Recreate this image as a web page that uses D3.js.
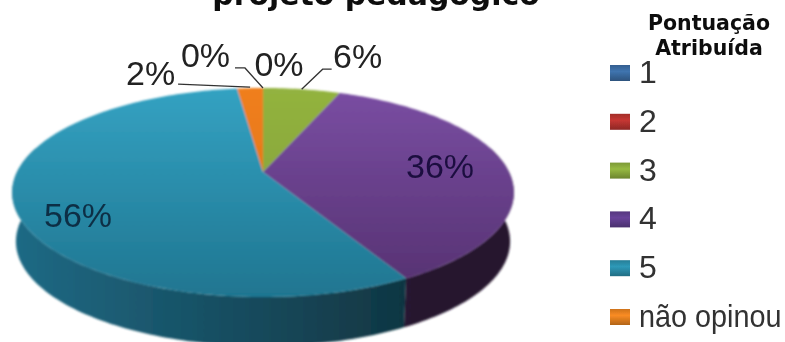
<!DOCTYPE html>
<html><head><meta charset="utf-8">
<script src="https://cdn.jsdelivr.net/npm/d3@7"></script>
<style>html,body{margin:0;padding:0;background:#fff}svg{display:block}</style>
</head><body><svg id="c" width="785" height="342"></svg>
<script>
const categories = ["1","2","3","4","5","não opinou"];
const values = [0,0,6,36,56,2];
const labels = ["0%","0%","6%","36%","56%","2%"];
const titleText = "projeto pedagógico";
const legendTitle = ["Pontuação","Atribuída"];
const topColors = [["#4f81bd","#3a6291"],["#c0504d","#8f3b39"],["#93b33f","#7d9a36"],["#7a4ea3","#54306f"],["#34a2c2","#1f7590"],["#f07f1c","#d96f14"]];
const sideColors = [["#2c4a70","#1d3350"],["#6e2624","#4a1a18"],["#506a22","#3a4e18"],["#35214a","#25152f"],["#1f6a85","#103440"],["#a05410","#7a400c"]];
const legendColors = ["#3a6aa0","#b5322f","#8aaa3c","#5f3d8c","#2a8ca8","#e5801f"];

const svg = d3.select("#c");
const defs = svg.append("defs");
defs.append("filter").attr("id","soft").append("feGaussianBlur").attr("stdDeviation",0.8);
defs.append("filter").attr("id","softText").attr("x","-10%").attr("y","-30%").attr("width","120%").attr("height","160%").append("feGaussianBlur").attr("stdDeviation",0.5);
const grad=(id,c,y1,y2,x)=>{const g=defs.append("linearGradient").attr("id",id).attr("gradientUnits","userSpaceOnUse")
  .attr("x1",x?x[0]:0).attr("x2",x?x[1]:0).attr("y1",y1).attr("y2",y2);
  g.append("stop").attr("offset",0).attr("stop-color",c[0]);g.append("stop").attr("offset",1).attr("stop-color",c[1]);};
topColors.forEach((c,i)=>grad("t"+i,c,88,300));
sideColors.forEach((c,i)=>grad("s"+i,c,0,0,[12,420]));
legendColors.forEach((c,i)=>{
  const g=defs.append("linearGradient").attr("id","k"+i).attr("x1",0).attr("x2",0).attr("y1",0).attr("y2",1);
  g.append("stop").attr("offset",0).attr("stop-color",d3.color(c).darker(0.3));
  g.append("stop").attr("offset",0.4).attr("stop-color",d3.color(c).brighter(0.25));
  g.append("stop").attr("offset",1).attr("stop-color",d3.color(c).darker(0.7));
});

// perspective projection of the pie disc
const cx=263, cy=172, A=100.5, B=246, k=-0.196, depth=49, lowerScale=0.985;
const project=(t,r=1,low=false)=>{const u=r*Math.sin(t),v=-r*Math.cos(t),d=1+k*v;
  const s=low?lowerScale:1;
  return [cx+s*B*u/d, cy+A*v/d+(low?depth:0)];};
const pie=d3.pie().sort(null).value(d=>d);
const arcs=pie(values);
const line=d3.line();
const steps=(a,b)=>{const n=Math.max(2,Math.ceil(Math.abs(b-a)/0.02));return d3.range(n+1).map(i=>a+(b-a)*i/n);};

const g=svg.append("g").attr("filter","url(#soft)");
// side wall (visible part of the rim only)
const sideStart=Math.PI/2-0.25, sideEnd=3*Math.PI/2+0.25;
arcs.forEach((a,i)=>{
  const s=Math.max(a.startAngle,sideStart), e=Math.min(a.endAngle,sideEnd);
  if(e<=s) return;
  const ts=steps(s,e);
  const pts=ts.map(t=>project(t)).concat(ts.slice().reverse().map(t=>project(t,1,true)));
  g.append("path").attr("d",line(pts)+"Z").attr("fill",`url(#s${i})`);
});
// top face
arcs.forEach((a,i)=>{
  if(a.endAngle<=a.startAngle) return;
  const pts=[project(0,0)].concat(steps(a.startAngle,a.endAngle).map(t=>project(t)));
  g.append("path").attr("d",line(pts)+"Z").attr("fill",`url(#t${i})`);
});

// title (clipped by the top of the picture, as in the reference)
svg.append("text").attr("x",376).attr("y",5).attr("text-anchor","middle").attr("filter","url(#softText)")
  .attr("font-family","DejaVu Sans").attr("font-weight","bold").attr("font-size",29.9).attr("fill","#111").text(titleText);

// data labels: placement relative to each slice's rim midpoint
const lab=[
 {dx:-57.5,dy:-21,lead:[[-18,-20],[-28,-20]]},
 {dx:16,dy:-12,lead:null},
 {dx:56,dy:-21,lead:[[21,-20],[30,-20]]},
 {inside:[440,178]},
 {inside:[78,227]},
 {dx:-99,dy:-3,lead:[[-72,-4],[0,-1]]}
];
const lbl=svg.append("g").attr("font-family","Liberation Sans").attr("font-size",34).attr("fill","#222").attr("filter","url(#softText)");
arcs.forEach((a,i)=>{
  const m=(a.startAngle+a.endAngle)/2, p=project(m);
  const l=lab[i];
  if(l.inside){lbl.append("text").attr("x",l.inside[0]).attr("y",l.inside[1]).attr("text-anchor","middle").attr("fill",i==4?"#0b2f45":"#1d1040").text(labels[i]);return;}
  if(i===5){
    lbl.append("text").attr("x",p[0]+l.dx-25).attr("y",p[1]+l.dy).text(labels[i]);
  } else {
    lbl.append("text").attr("x",p[0]+l.dx).attr("y",p[1]+l.dy).attr("text-anchor","middle").text(labels[i]);
  }
  if(l.lead){
    const lp=l.lead.map(o=>[p[0]+o[0],p[1]+o[1]]);
    const pts=i===5?lp:[p].concat(lp);
    svg.append("path").attr("d",line(pts)).attr("fill","none").attr("stroke","#333").attr("stroke-width",1.3).attr("filter","url(#softText)");
  }
});

// legend
const leg=svg.append("g");
legendTitle.forEach((t,i)=>leg.append("text").attr("x",709).attr("y",30+i*25).attr("text-anchor","middle").attr("filter","url(#softText)")
  .attr("font-family","DejaVu Sans").attr("font-weight","bold").attr("font-size",20.5).attr("fill","#111").text(t));
const rowY=d3.scalePoint().domain(categories).range([73,317]);
categories.forEach((c,i)=>{
  const y=rowY(c);
  leg.append("rect").attr("x",610).attr("y",y-8).attr("width",20).attr("height",16).attr("fill",`url(#k${i})`).attr("filter","url(#softText)");
  const t=leg.append("text").attr("y",y+10).attr("font-family","Liberation Sans").attr("font-size",32).attr("fill","#333").attr("filter","url(#softText)").text(c);
  if(c.length>1) t.attr("x",0).attr("transform","translate(639,0) scale(0.9,1)");
  else t.attr("x",639);
});
</script></body></html>
